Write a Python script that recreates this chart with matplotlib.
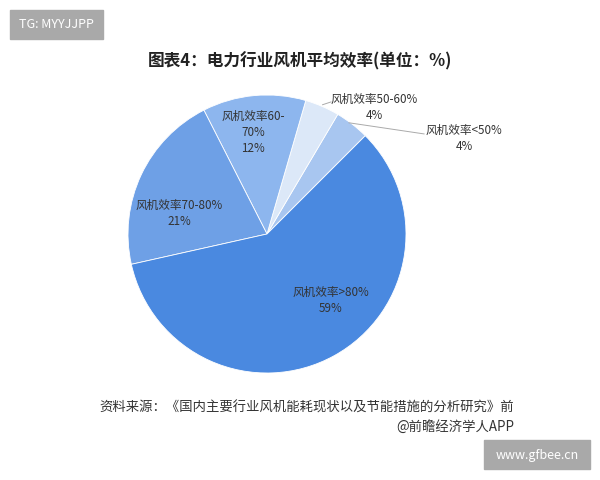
import matplotlib.pyplot as plt
from matplotlib.patches import Rectangle

plt.rcParams['font.family'] = ['Noto Sans CJK SC', 'DejaVu Sans']

# slices, counterclockwise from the 45 degree boundary
names = ["风机效率<50%", "风机效率50-60%", "风机效率60-\n70%", "风机效率70-80%", "风机效率>80%"]
values = [4, 4, 12, 21, 59]
colors = ["#a8c6f0", "#dce8f8", "#8db6ee", "#6ea0e6", "#4a89e0"]

# label centres in pie data units (radius 1)
label_pos = [(1.42, 0.69), (0.77, 0.91), (-0.10, 0.73), (-0.63, 0.15), (0.46, -0.48)]

fig = plt.figure(figsize=(6, 4.8), dpi=100)
fig.patch.set_facecolor("white")

# pie centred at (267, 234) px, radius 139 px
ax = fig.add_axes([(267 - 139) / 600, (480 - 234 - 139) / 480, 278 / 600, 278 / 480])
wedges, _ = ax.pie(values, colors=colors, startangle=45, counterclock=True,
                   wedgeprops=dict(edgecolor="white", linewidth=0.6))
ax.set_xlim(-1, 1)
ax.set_ylim(-1, 1)
ax.set_aspect("equal")
ax.axis("off")

for name, v, (x, y) in zip(names, values, label_pos):
    ax.text(x, y, "%s\n%d%%" % (name, v), ha="center", va="center",
            fontsize=8.4, color="#333333", linespacing=1.3, clip_on=False)

# leader lines for the two small slices
ax.plot([0.40, 0.46], [0.93, 0.95], color="#aaaaaa", lw=0.7, clip_on=False)
ax.plot([0.59, 1.13], [0.80, 0.72], color="#aaaaaa", lw=0.7, clip_on=False)

fig.text(300 / 600, 1 - 61 / 480, "图表4：电力行业风机平均效率(单位：%)", ha="center", va="center",
         fontsize=12, fontweight="bold", color="#222222")

fig.text(514 / 600, 1 - 408 / 480, "资料来源：《国内主要行业风机能耗现状以及节能措施的分析研究》前",
         ha="right", va="center", fontsize=9.6, color="#333333")
fig.text(514 / 600, 1 - 427 / 480, "@前瞻经济学人APP", ha="right", va="center",
         fontsize=9.6, color="#333333")

# watermark boxes
fig.patches.append(Rectangle((10 / 600, 1 - 39 / 480), 93 / 600, 29 / 480,
                             transform=fig.transFigure, color="#a9a9a9"))
fig.text(56 / 600, 1 - 25 / 480, "TG: MYYJJPP", ha="center", va="center",
         fontsize=9, color="white")
fig.patches.append(Rectangle((484 / 600, 1 - 469 / 480), 106 / 600, 29 / 480,
                             transform=fig.transFigure, color="#a9a9a9"))
fig.text(537 / 600, 1 - 455 / 480, "www.gfbee.cn", ha="center", va="center",
         fontsize=9, color="white")

fig.savefig("out.png", dpi=100)
